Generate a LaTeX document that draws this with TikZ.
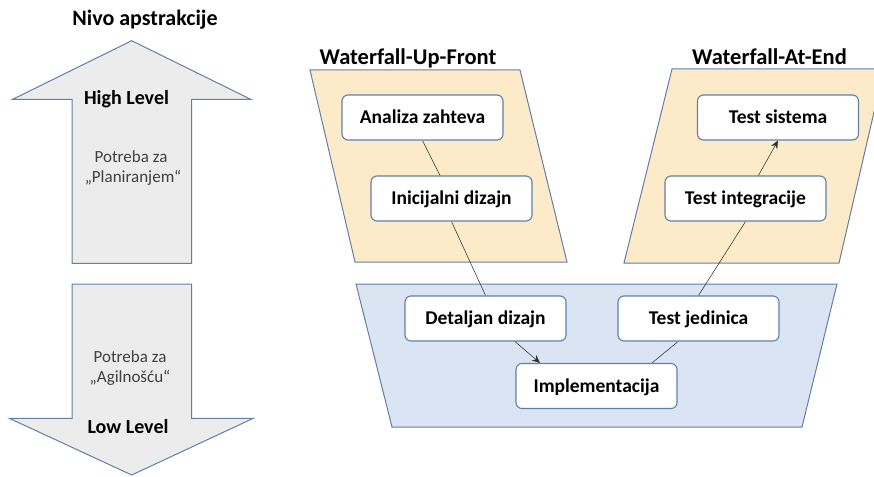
\documentclass[tikz,border=0pt]{standalone}
\usepackage{fontspec}
\setmainfont{Carlito}
\usetikzlibrary{arrows.meta}
\definecolor{edgeblue}{RGB}{96,128,168}
\definecolor{phasefill}{RGB}{252,234,200}
\definecolor{corefill}{RGB}{218,228,242}
\definecolor{arrowfill}{RGB}{236,236,236}
\definecolor{softtext}{RGB}{64,64,64}
\definecolor{linkgray}{RGB}{50,50,50}
\pgfdeclarelayer{regions}
\pgfdeclarelayer{links}
\pgfsetlayers{regions,links,main}
\tikzset{
  region/.style={draw=edgeblue, line width=1pt, line join=miter},
  bigarrow/.style={draw=edgeblue, fill=arrowfill, line width=1pt, line join=miter},
  stagebox/.style={draw=edgeblue, fill=white, line width=1.1pt, rounded corners=6pt,
    minimum width=161pt, minimum height=45pt, inner sep=0pt,
    text height=12.5pt, text depth=0pt, font=\fontsize{19.5}{22}\selectfont\bfseries},
  heading/.style={anchor=base, font=\fontsize{22.5}{26}\selectfont\bfseries},
  levellabel/.style={anchor=base, font=\fontsize{20}{24}\selectfont\bfseries},
  needtext/.style={anchor=base, text=softtext, font=\fontsize{17}{20}\selectfont},
  link/.style={draw=linkgray, line width=0.55pt},
  tiplink/.style={link, -{Stealth[length=8pt,width=7pt]}}
}
\begin{document}
\begin{tikzpicture}[x=1pt,y=-1pt]
\useasboundingbox (0,0) rectangle (874,476);
\clip (0,0) rectangle (874,476);

% abstraction level arrows
\draw[bigarrow] (131.7,40.7) -- (250.7,99.3) -- (191.7,99.3) -- (191.7,263.3)
  -- (72,263.3) -- (72,99.3) -- (12.7,99.3) -- cycle;
\draw[bigarrow] (72,284) -- (191.7,284) -- (191.7,418.3) -- (253.3,418.3)
  -- (131.7,475) -- (9.3,418.3) -- (72,418.3) -- cycle;

\node[anchor=base, font=\fontsize{22}{26}\selectfont\bfseries] (nivo) at (145,26) {Nivo apstrakcije};
\node[levellabel] (high) at (126.5,105) {High Level};
\node[needtext] (pl1) at (131,162) {Potreba za};
\node[needtext] (pl2) at (133,182) {„Planiranjem“};
\node[needtext] (ag1) at (130,362) {Potreba za};
\node[needtext] (ag2) at (130,382) {„Agilnošću“};
\node[levellabel] (low) at (128,433) {Low Level};

% phase regions
\begin{pgfonlayer}{regions}
  \fill[phasefill] (310,70) -- (520,70) -- (567,262) -- (355,262) -- cycle;
  \draw[region] (310,70) -- (520,70) -- (567,262) -- (355,262) -- cycle;
  \fill[phasefill] (672,69) -- (884,69) -- (839,263) -- (624,263) -- cycle;
  \draw[region] (672,69) -- (884,69) -- (839,263) -- (624,263) -- cycle;
  \fill[corefill] (356,284) -- (837,284) -- (802,427) -- (392,427) -- cycle;
  \draw[region] (356,284) -- (837,284) -- (802,427) -- (392,427) -- cycle;
\end{pgfonlayer}

\node[heading] (upfront) at (408,65) {Waterfall-Up-Front};
\node[heading] (atend) at (769.5,65) {Waterfall-At-End};

% stages
\node[stagebox] (analiza) at (422.5,117.5) {Analiza zahteva};
\node[stagebox] (inicijalni) at (451.5,198.5) {Inicijalni dizajn};
\node[stagebox] (detaljan) at (485.5,318.5) {Detaljan dizajn};
\node[stagebox] (impl) at (596.5,386) {Implementacija};
\node[stagebox] (jedinica) at (698.5,318.5) {Test jedinica};
\node[stagebox] (integracije) at (745.5,198.5) {Test integracije};
\node[stagebox] (sistema) at (778,117.5) {Test sistema};

% flow between stages
\begin{pgfonlayer}{links}
  \draw[link] (analiza.south) -- (inicijalni.center);
  \draw[link] (inicijalni.south) -- (detaljan.north);
  \draw[tiplink] ([xshift=29.5pt]detaljan.south) -- ([xshift=-56.5pt]impl.north);
  \draw[link] ([xshift=55.5pt]impl.north) -- ([xshift=-20.5pt]jedinica.south);
  \draw[link] (jedinica.north) -- (integracije.south);
  \draw[tiplink] (integracije.center) -- (sistema.south);
\end{pgfonlayer}
\end{tikzpicture}
\end{document}
